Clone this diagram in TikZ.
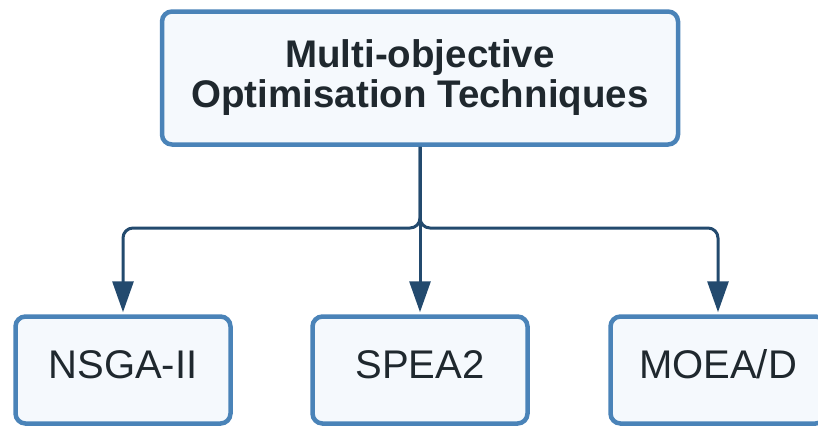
\documentclass[tikz,border=0pt]{standalone}
\usepackage{fontspec}
\setmainfont{Liberation Sans}
\usetikzlibrary{arrows.meta}
\definecolor{boxborder}{HTML}{4A83B8}
\definecolor{boxfill}{HTML}{F5F9FD}
\definecolor{arrowcol}{HTML}{234A6E}
\definecolor{textcol}{HTML}{1F282E}
\begin{document}
\begin{tikzpicture}[x=1pt,y=1pt,
  box/.style={draw=boxborder, fill=boxfill, line width=4.5pt, rounded corners=10pt,
    text=textcol, align=center, inner sep=0pt},
  topbox/.style={box, minimum width=516pt, minimum height=133pt,
    font=\fontsize{38.5}{40}\selectfont\bfseries},
  leafbox/.style={box, minimum width=215pt, minimum height=107pt,
    text height=29pt, text depth=12pt,
    font=\fontsize{40}{44}\selectfont},
  conn/.style={draw=arrowcol, line width=3pt, rounded corners=10pt,
    -{Triangle[length=31pt,width=21pt]}, shorten >=2pt}
]
\useasboundingbox (0,0) rectangle (818,-426);
\node[topbox] (top) at (420,-78) {Multi-objective\\Optimisation Techniques};
\node[leafbox] (n1) at (123,-370) {NSGA-II};
\node[leafbox] (n2) at (420,-370) {SPEA2};
\node[leafbox] (n3) at (718,-370) {MOEA/D};
\coordinate (j) at (420,-228);
\draw[conn] (top.south) -- (j) -| (n1.north);
\draw[conn] (top.south) -- (j) -| (n3.north);
\draw[conn] (top.south) -- (n2.north);
\end{tikzpicture}
\end{document}
